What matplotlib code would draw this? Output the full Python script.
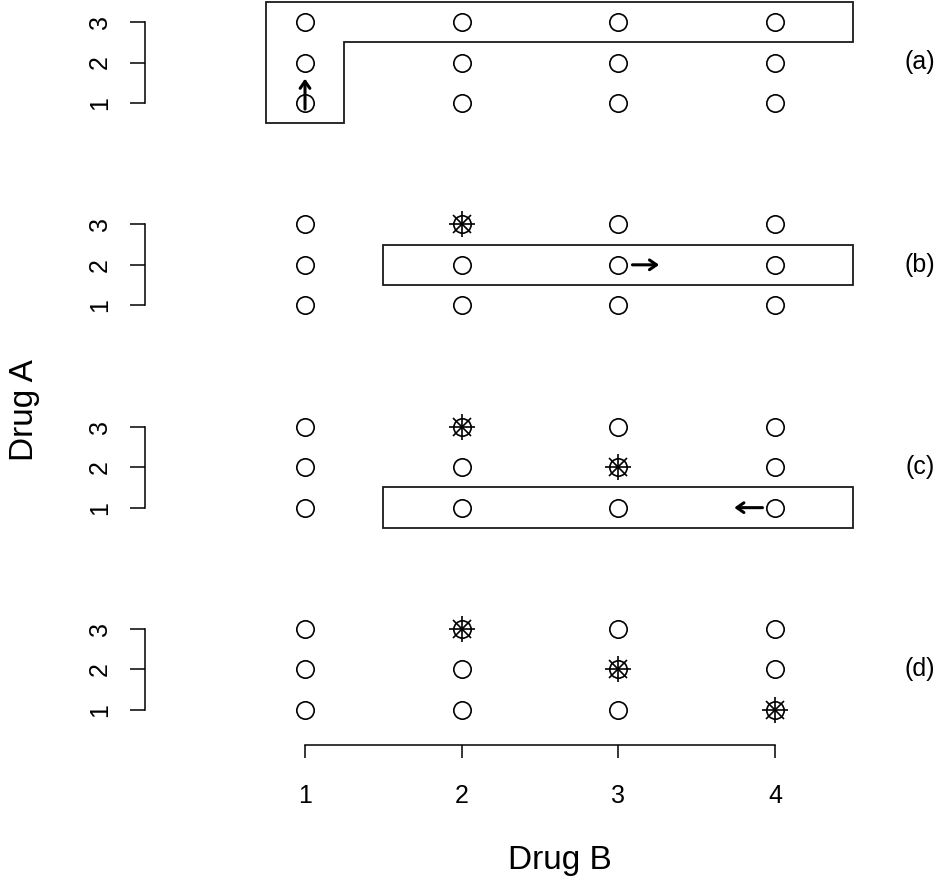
import numpy as np
import matplotlib.pyplot as plt

plt.rcParams['font.family'] = ['Liberation Sans', 'DejaVu Sans']

# dose grid
doses_b = [1, 2, 3, 4]
doses_a = [1, 2, 3]
panel_names = ["(a)", "(b)", "(c)", "(d)"]

# toxic combinations (drug B, drug A) in each step
toxic = [
    [],
    [(2, 3)],
    [(2, 3), (3, 2)],
    [(2, 3), (3, 2), (4, 1)],
]

# search zone outlines
zones = [
    [(0.75, 0.5), (0.75, 3.5), (4.5, 3.5), (4.5, 2.5), (1.25, 2.5), (1.25, 0.5)],
    [(1.5, 1.5), (1.5, 2.5), (4.5, 2.5), (4.5, 1.5)],
    [(1.5, 0.5), (1.5, 1.5), (4.5, 1.5), (4.5, 0.5)],
    None,
]

# escalation moves: (start, end)
moves = [
    ((1, 0.85), (1, 1.6)),
    ((3.09, 2), (3.26, 2)),
    ((3.92, 1), (3.74, 1)),
    None,
]

W, H = 949, 884
fig = plt.figure(figsize=(W / 100, H / 100), dpi=100)

x_lo, x_hi = -0.0213, 4.7
y_lo, y_hi = 0.136, 3.52
px_x = 156.67   # pixels per dose step on B
px_y = 40.5     # pixels per dose step on A
left_px = 145

for k in range(4):
    base = 103 + 202.33 * k      # pixel row of dose A = 1
    bottom_px = base + (1 - y_lo) * px_y
    top_px = base - (y_hi - 1) * px_y
    ax = fig.add_axes([left_px / W, 1 - bottom_px / H,
                       (x_hi - x_lo) * px_x / W, (bottom_px - top_px) / H])
    ax.set_xlim(x_lo, x_hi)
    ax.set_ylim(y_lo, y_hi)
    ax.patch.set_alpha(0)

    gx, gy = np.meshgrid(doses_b, doses_a)
    ax.plot(gx.ravel(), gy.ravel(), 'o', ms=12.5, mfc='none', mec='black',
            mew=1.2, clip_on=False)
    if toxic[k]:
        tx = [p[0] for p in toxic[k]]
        ty = [p[1] for p in toxic[k]]
        ax.plot(tx, ty, '+', ms=18.5, mec='black', mew=1.2, clip_on=False)
        ax.plot(tx, ty, 'x', ms=13, mec='black', mew=1.2, clip_on=False)

    if zones[k] is not None:
        ax.add_patch(plt.Polygon(zones[k], closed=True, fill=False,
                                 ec='#1a1a1a', lw=1.3, clip_on=False))
    if moves[k] is not None:
        (x0, y0), (x1, y1) = moves[k]
        ax.annotate('', xy=(x1, y1), xytext=(x0, y0),
                    arrowprops=dict(arrowstyle='->,head_length=0.5,head_width=0.35',
                                    lw=2.2, color='black', shrinkA=0, shrinkB=0),
                    annotation_clip=False)

    for s in ['top', 'right']:
        ax.spines[s].set_visible(False)
    ax.spines['left'].set_bounds(1, 3)
    ax.spines['left'].set_linewidth(1.1)
    ax.set_yticks(doses_a)
    ax.set_yticklabels([str(v) for v in doses_a], rotation=90, va='center',
                       fontsize=18)
    ax.tick_params(axis='y', length=11, width=1.1, pad=13)

    if k == 3:
        ax.spines['bottom'].set_bounds(1, 4)
        ax.spines['bottom'].set_linewidth(1.1)
        ax.set_xticks(doses_b)
        ax.set_xticklabels([str(v) for v in doses_b], fontsize=18)
        ax.tick_params(axis='x', length=9, width=1.1, pad=19)
    else:
        ax.spines['bottom'].set_visible(False)
        ax.set_xticks([])

    fig.text(920 / W, 1 - (base - px_y) / H, panel_names[k], fontsize=18,
             ha='center', va='center')

fig.text(25 / W, 1 - 410 / H, "Drug A", fontsize=24, rotation=90,
         ha='center', va='center')
fig.text(560 / W, 1 - 860 / H, "Drug B", fontsize=24, ha='center', va='center')

fig.savefig("out.png", dpi=100)
